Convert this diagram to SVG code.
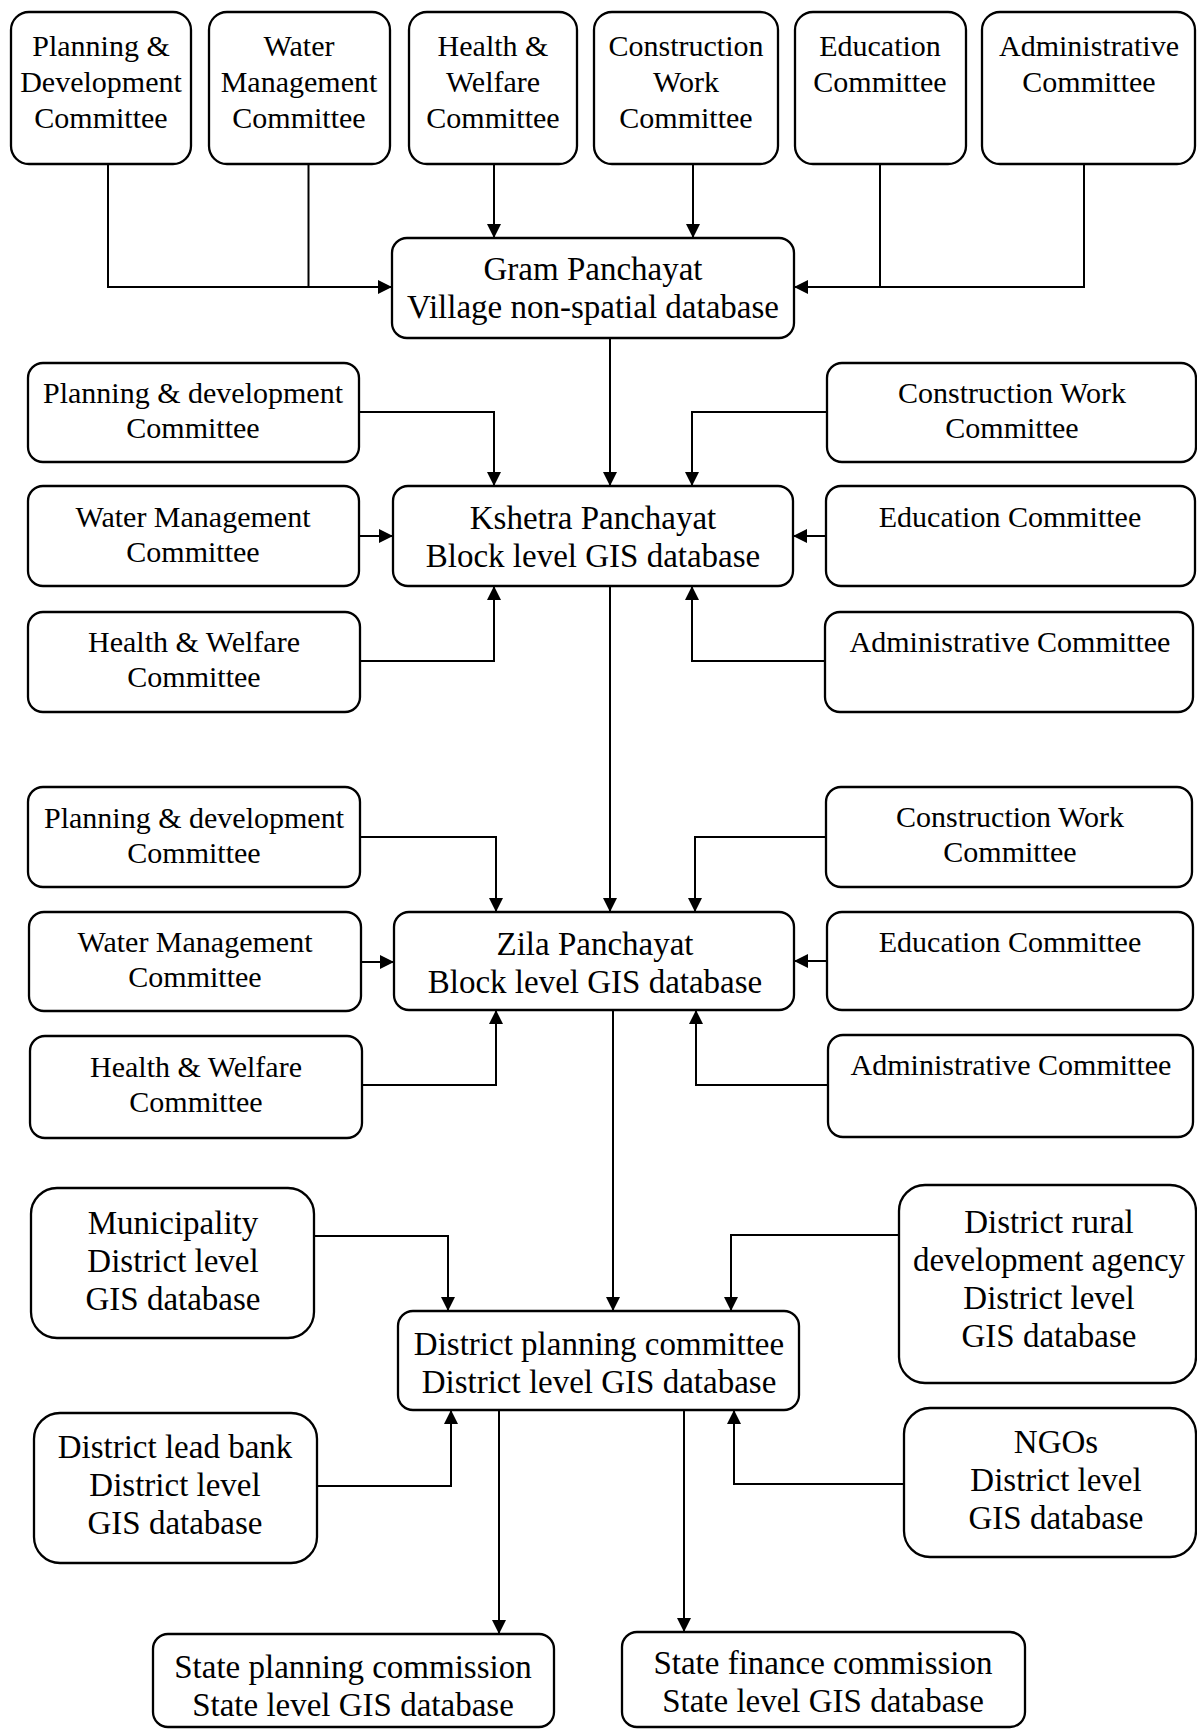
<svg xmlns="http://www.w3.org/2000/svg" width="1197" height="1730" viewBox="0 0 1197 1730">
  <style>
    .box { fill: #ffffff; stroke: #000000; stroke-width: 2.3; }
    .t30 { font-family: "Liberation Serif", "Times New Roman", serif; font-size: 30px; fill: #000000; text-anchor: middle; }
    .t33 { font-family: "Liberation Serif", "Times New Roman", serif; font-size: 33px; fill: #000000; text-anchor: middle; }
    .link { fill: none; stroke: #000000; stroke-width: 2; }
  </style>
  <defs>
    <marker id="arrow" markerUnits="userSpaceOnUse" markerWidth="15" markerHeight="14" refX="14" refY="7" orient="auto">
      <path d="M0,0 L14,7 L0,14 z" fill="#000000"/>
    </marker>
  </defs>
  <rect width="1197" height="1730" fill="#ffffff"/>

  <!-- Village level committees -->
  <g id="gp-planning">
    <rect class="box" x="11" y="12" width="180" height="152" rx="18"/>
    <text class="t30" x="101" y="56">Planning &amp;</text>
    <text class="t30" x="101" y="92">Development</text>
    <text class="t30" x="101" y="128">Committee</text>
  </g>
  <g id="gp-water">
    <rect class="box" x="209" y="12" width="181" height="152" rx="18"/>
    <text class="t30" x="299" y="56">Water</text>
    <text class="t30" x="299" y="92">Management</text>
    <text class="t30" x="299" y="128">Committee</text>
  </g>
  <g id="gp-health">
    <rect class="box" x="409" y="12" width="168" height="152" rx="18"/>
    <text class="t30" x="493" y="56">Health &amp;</text>
    <text class="t30" x="493" y="92">Welfare</text>
    <text class="t30" x="493" y="128">Committee</text>
  </g>
  <g id="gp-construction">
    <rect class="box" x="594" y="12" width="184" height="152" rx="18"/>
    <text class="t30" x="686" y="56">Construction</text>
    <text class="t30" x="686" y="92">Work</text>
    <text class="t30" x="686" y="128">Committee</text>
  </g>
  <g id="gp-education">
    <rect class="box" x="795" y="12" width="171" height="152" rx="18"/>
    <text class="t30" x="880" y="56">Education</text>
    <text class="t30" x="880" y="92">Committee</text>
  </g>
  <g id="gp-admin">
    <rect class="box" x="982" y="12" width="213" height="152" rx="18"/>
    <text class="t30" x="1089" y="56">Administrative</text>
    <text class="t30" x="1089" y="92">Committee</text>
  </g>

  <g id="gram-panchayat">
    <rect class="box" x="392" y="238" width="402" height="100" rx="15"/>
    <text class="t33" x="593" y="280">Gram Panchayat</text>
    <text class="t33" x="593" y="318">Village non-spatial database</text>
  </g>

  <!-- Block level committees -->
  <g id="kp-planning">
    <rect class="box" x="28" y="363" width="331" height="99" rx="15"/>
    <text class="t30" x="193" y="403">Planning &amp; development</text>
    <text class="t30" x="193" y="438">Committee</text>
  </g>
  <g id="kp-water">
    <rect class="box" x="28" y="486" width="331" height="100" rx="15"/>
    <text class="t30" x="193" y="527">Water Management</text>
    <text class="t30" x="193" y="562">Committee</text>
  </g>
  <g id="kp-health">
    <rect class="box" x="28" y="612" width="332" height="100" rx="15"/>
    <text class="t30" x="194" y="652">Health &amp; Welfare</text>
    <text class="t30" x="194" y="687">Committee</text>
  </g>
  <g id="kp-construction">
    <rect class="box" x="827" y="363" width="369" height="99" rx="15"/>
    <text class="t30" x="1012" y="403">Construction Work</text>
    <text class="t30" x="1012" y="438">Committee</text>
  </g>
  <g id="kp-education">
    <rect class="box" x="826" y="486" width="369" height="100" rx="15"/>
    <text class="t30" x="1010" y="527">Education Committee</text>
  </g>
  <g id="kp-admin">
    <rect class="box" x="825" y="612" width="368" height="100" rx="15"/>
    <text class="t30" x="1010" y="652">Administrative Committee</text>
  </g>

  <g id="kshetra-panchayat">
    <rect class="box" x="393" y="486" width="400" height="100" rx="15"/>
    <text class="t33" x="593" y="529">Kshetra Panchayat</text>
    <text class="t33" x="593" y="567">Block level GIS database</text>
  </g>

  <!-- District panchayat committees -->
  <g id="zp-planning">
    <rect class="box" x="28" y="787" width="332" height="100" rx="15"/>
    <text class="t30" x="194" y="828">Planning &amp; development</text>
    <text class="t30" x="194" y="863">Committee</text>
  </g>
  <g id="zp-water">
    <rect class="box" x="29" y="912" width="332" height="99" rx="15"/>
    <text class="t30" x="195" y="952">Water Management</text>
    <text class="t30" x="195" y="987">Committee</text>
  </g>
  <g id="zp-health">
    <rect class="box" x="30" y="1036" width="332" height="102" rx="15"/>
    <text class="t30" x="196" y="1077">Health &amp; Welfare</text>
    <text class="t30" x="196" y="1112">Committee</text>
  </g>
  <g id="zp-construction">
    <rect class="box" x="826" y="787" width="366" height="100" rx="15"/>
    <text class="t30" x="1010" y="827">Construction Work</text>
    <text class="t30" x="1010" y="862">Committee</text>
  </g>
  <g id="zp-education">
    <rect class="box" x="827" y="912" width="366" height="98" rx="15"/>
    <text class="t30" x="1010" y="952">Education Committee</text>
  </g>
  <g id="zp-admin">
    <rect class="box" x="828" y="1035" width="365" height="102" rx="15"/>
    <text class="t30" x="1011" y="1075">Administrative Committee</text>
  </g>

  <g id="zila-panchayat">
    <rect class="box" x="394" y="912" width="400" height="98" rx="15"/>
    <text class="t33" x="595" y="955">Zila Panchayat</text>
    <text class="t33" x="595" y="993">Block level GIS database</text>
  </g>

  <!-- District level agencies -->
  <g id="municipality">
    <rect class="box" x="31" y="1188" width="283" height="150" rx="26"/>
    <text class="t33" x="173" y="1234">Municipality</text>
    <text class="t33" x="173" y="1272">District level</text>
    <text class="t33" x="173" y="1310">GIS database</text>
  </g>
  <g id="lead-bank">
    <rect class="box" x="34" y="1413" width="283" height="150" rx="26"/>
    <text class="t33" x="175" y="1458">District lead bank</text>
    <text class="t33" x="175" y="1496">District level</text>
    <text class="t33" x="175" y="1534">GIS database</text>
  </g>
  <g id="drda">
    <rect class="box" x="899" y="1185" width="297" height="198" rx="26"/>
    <text class="t33" x="1049" y="1233">District rural</text>
    <text class="t33" x="1049" y="1271">development agency</text>
    <text class="t33" x="1049" y="1309">District level</text>
    <text class="t33" x="1049" y="1347">GIS database</text>
  </g>
  <g id="ngos">
    <rect class="box" x="904" y="1408" width="292" height="149" rx="26"/>
    <text class="t33" x="1056" y="1453">NGOs</text>
    <text class="t33" x="1056" y="1491">District level</text>
    <text class="t33" x="1056" y="1529">GIS database</text>
  </g>

  <g id="district-planning-committee">
    <rect class="box" x="398" y="1311" width="401" height="99" rx="15"/>
    <text class="t33" x="599" y="1355">District planning committee</text>
    <text class="t33" x="599" y="1393">District level GIS database</text>
  </g>

  <!-- State level -->
  <g id="state-planning">
    <rect class="box" x="153" y="1634" width="401" height="93" rx="15"/>
    <text class="t33" x="353" y="1678">State planning commission</text>
    <text class="t33" x="353" y="1716">State level GIS database</text>
  </g>
  <g id="state-finance">
    <rect class="box" x="622" y="1632" width="403" height="95" rx="15"/>
    <text class="t33" x="823" y="1674">State finance commission</text>
    <text class="t33" x="823" y="1712">State level GIS database</text>
  </g>

  <!-- Connectors -->
  <g id="connectors">
    <!-- into Gram Panchayat -->
    <path class="link" d="M108,164 V287 H392" marker-end="url(#arrow)"/>
    <path class="link" d="M308.5,164 V287"/>
    <path class="link" d="M494,164 V238" marker-end="url(#arrow)"/>
    <path class="link" d="M693,164 V238" marker-end="url(#arrow)"/>
    <path class="link" d="M880,164 V287"/>
    <path class="link" d="M1084,164 V287 H794" marker-end="url(#arrow)"/>
    <path class="link" d="M610,338 V486" marker-end="url(#arrow)"/>

    <!-- into Kshetra Panchayat -->
    <path class="link" d="M359,412 H494 V486" marker-end="url(#arrow)"/>
    <path class="link" d="M359,536 H393" marker-end="url(#arrow)"/>
    <path class="link" d="M360,661 H494 V586" marker-end="url(#arrow)"/>
    <path class="link" d="M827,412 H692 V486" marker-end="url(#arrow)"/>
    <path class="link" d="M826,536 H793" marker-end="url(#arrow)"/>
    <path class="link" d="M825,661 H692 V586" marker-end="url(#arrow)"/>
    <path class="link" d="M610,586 V912" marker-end="url(#arrow)"/>

    <!-- into Zila Panchayat -->
    <path class="link" d="M360,837 H496 V912" marker-end="url(#arrow)"/>
    <path class="link" d="M361,962 H394" marker-end="url(#arrow)"/>
    <path class="link" d="M362,1085 H496 V1010" marker-end="url(#arrow)"/>
    <path class="link" d="M826,837 H695 V912" marker-end="url(#arrow)"/>
    <path class="link" d="M827,961 H794" marker-end="url(#arrow)"/>
    <path class="link" d="M828,1085 H696 V1010" marker-end="url(#arrow)"/>
    <path class="link" d="M613,1010 V1311" marker-end="url(#arrow)"/>

    <!-- into District planning committee -->
    <path class="link" d="M314,1236 H448 V1311" marker-end="url(#arrow)"/>
    <path class="link" d="M317,1486 H451 V1410" marker-end="url(#arrow)"/>
    <path class="link" d="M899,1235 H731 V1311" marker-end="url(#arrow)"/>
    <path class="link" d="M904,1484 H734 V1410" marker-end="url(#arrow)"/>

    <!-- to state level -->
    <path class="link" d="M499,1410 V1634" marker-end="url(#arrow)"/>
    <path class="link" d="M684,1410 V1632" marker-end="url(#arrow)"/>
  </g>
</svg>
